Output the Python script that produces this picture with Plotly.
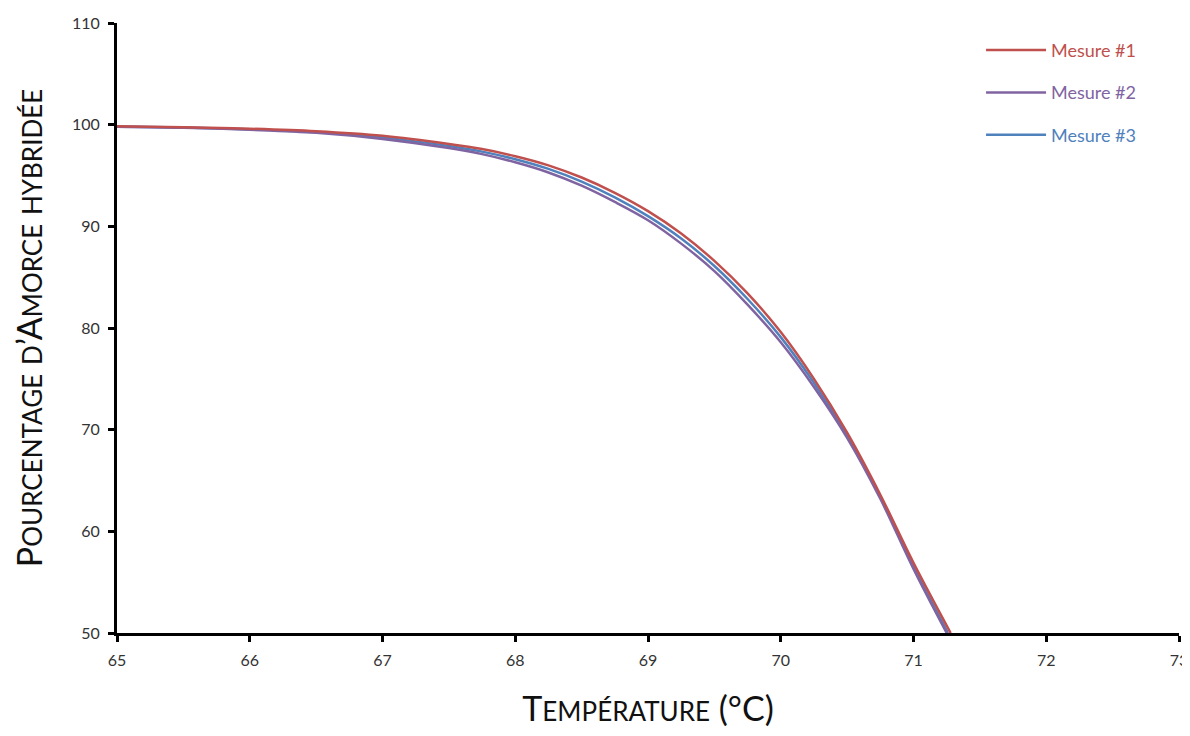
import plotly.graph_objects as go

# temperatures (°C) and % hybridised primer
temp = [65.0, 65.5, 66.0, 66.5, 67.0, 67.5, 67.75, 68.0, 68.25, 68.5, 68.75,
        69.0, 69.25, 69.5, 69.75, 70.0, 70.25, 70.5, 70.75, 71.0]
mesure_1 = [99.85, 99.75, 99.6, 99.35, 98.9, 98.1, 97.6, 96.9, 96.0, 94.8, 93.3,
            91.5, 89.3, 86.6, 83.4, 79.6, 75.0, 69.7, 63.6, 56.9]
mesure_2 = [99.8, 99.7, 99.5, 99.2, 98.6, 97.7, 97.1, 96.3, 95.3, 94.0, 92.4,
            90.6, 88.3, 85.6, 82.3, 78.6, 74.2, 69.2, 63.2, 56.3]
mesure_3 = [99.82, 99.72, 99.55, 99.27, 98.75, 97.9, 97.35, 96.6, 95.65, 94.4, 92.85,
            91.0, 88.8, 86.1, 82.85, 79.1, 74.6, 69.4, 63.4, 56.5]

# temperature where each curve reaches the 50 % floor
end_1 = 71.28
end_2 = 71.25
end_3 = 71.26
floor = 50.0

x_ticks = [65, 66, 67, 68, 69, 70, 71, 72, 73]
y_ticks = [50, 60, 70, 80, 90, 100, 110]

RED = "#C0504D"
PURPLE = "#8064A2"
BLUE = "#4F81BD"
FONT = "Lato, 'Open Sans', sans-serif"


def small_caps(text, big=34, small=26):
    out = ""
    for ch in text:
        if ch.isupper() or not ch.isalpha():
            out += f"<span style='font-size:{big}px'>{ch}</span>"
        else:
            out += f"<span style='font-size:{small}px'>{ch.upper()}</span>"
    return out


fig = go.Figure()

series = [
    ("Mesure #3", mesure_3, end_3, BLUE, 3),
    ("Mesure #2", mesure_2, end_2, PURPLE, 2),
    ("Mesure #1", mesure_1, end_1, RED, 1),
]
for name, vals, end, color, rank in series:
    fig.add_trace(
        go.Scatter(
            x=temp + [end],
            y=vals + [floor],
            name=f"<span style='color:{color}'>{name}</span>",
            mode="lines",
            line=dict(color=color, width=2.5, shape="spline", smoothing=1.0),
            legendrank=rank,
            legendgroup=name,
        )
    )

# the page body adds an 8px offset, margins are set so the plot area lands in place
fig.update_layout(
    width=1190,
    height=720,
    margin=dict(l=109, r=19, t=15, b=95),
    paper_bgcolor="white",
    plot_bgcolor="white",
    font=dict(family=FONT, color="#333333", size=16),
    showlegend=True,
    legend=dict(
        x=0.8136,
        y=0.9855,
        xanchor="left",
        yanchor="top",
        font=dict(size=18, family=FONT),
        itemwidth=60,
        tracegroupgap=16,
        bgcolor="rgba(0,0,0,0)",
    ),
)

fig.update_xaxes(
    range=[65, 73],
    tickvals=x_ticks,
    automargin=False,
    showgrid=False,
    zeroline=False,
    showline=True,
    linecolor="black",
    linewidth=3,
    ticks="outside",
    ticklen=6,
    tickwidth=3,
    tickcolor="black",
    ticklabelstandoff=5,
    ticklabeloverflow="allow",
    tickfont=dict(size=16),
    title=dict(
        text=small_caps("Température (°C)"),
        font=dict(size=34, color="#111111"),
        standoff=40,
    ),
)
fig.update_yaxes(
    range=[50, 110],
    tickvals=y_ticks,
    automargin=False,
    showgrid=False,
    zeroline=False,
    showline=True,
    linecolor="black",
    linewidth=3,
    ticks="outside",
    ticklen=6,
    tickwidth=3,
    tickcolor="black",
    ticklabelstandoff=5,
    tickfont=dict(size=16),
    title=dict(
        text=small_caps("Pourcentage d’Amorce hybridée"),
        font=dict(size=34, color="#111111"),
        standoff=31,
    ),
)

fig.write_html("out.html")
